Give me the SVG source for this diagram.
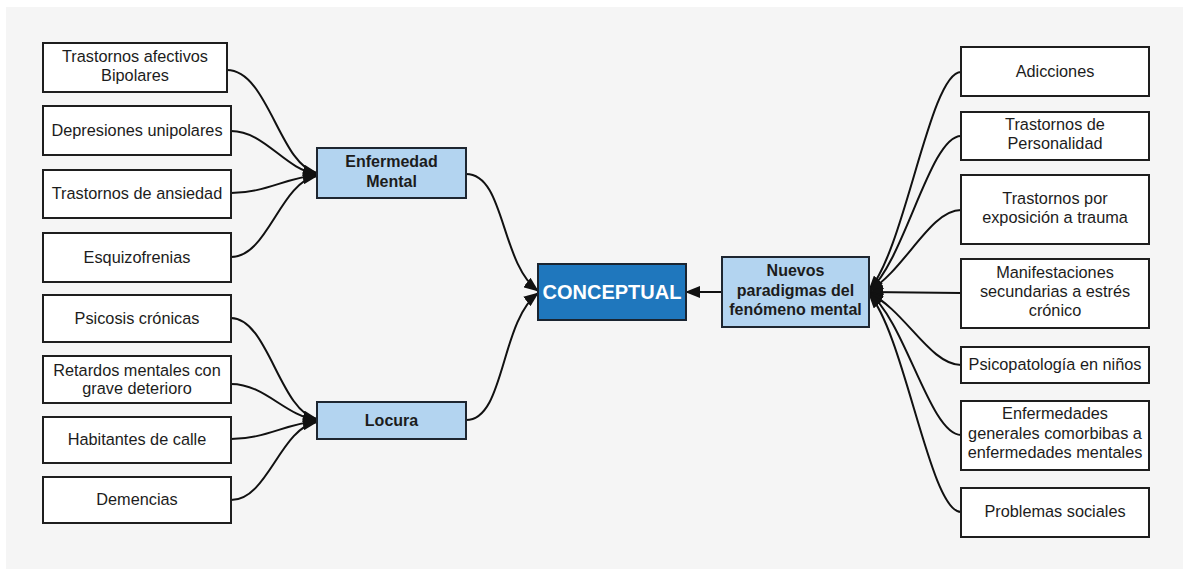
<svg xmlns="http://www.w3.org/2000/svg" width="1183" height="569" viewBox="0 0 1183 569">
  <style>
    .leaf { fill: #ffffff; stroke: #1e1e1e; stroke-width: 2; }
    .hub { fill: #b3d4f0; stroke: #1e2630; stroke-width: 2; }
    .core { fill: #1f77bd; stroke: #1a2430; stroke-width: 2; }
    .t { font-family: "Liberation Sans", Arial, sans-serif; font-size: 16.3px; fill: #1c1c1c; text-anchor: middle; }
    .tb { font-family: "Liberation Sans", Arial, sans-serif; font-size: 16px; font-weight: bold; fill: #1c1c1c; text-anchor: middle; }
    .tc { font-family: "Liberation Sans", Arial, sans-serif; font-size: 20px; font-weight: bold; fill: #ffffff; text-anchor: middle; }
    .link { fill: none; stroke: #111111; stroke-width: 2; marker-end: url(#head); }
  </style>
  <defs>
    <marker id="head" markerUnits="userSpaceOnUse" markerWidth="15" markerHeight="12" refX="14" refY="6" orient="auto">
      <path d="M0,0 L15,6 L0,12 z" fill="#111111"/>
    </marker>
  </defs>

  <rect x="6" y="7" width="1177" height="562" fill="#f5f5f5"/>

  <g id="connectors">
    <!-- leaves into Enfermedad Mental -->
    <path class="link" d="M227,70 C268,70 280,166 317,173"/>
    <path class="link" d="M231,131 C265,131 285,170 317,174"/>
    <path class="link" d="M231,193 C265,193 285,178 317,175"/>
    <path class="link" d="M231,257 C268,257 280,182 317,176"/>
    <!-- leaves into Locura -->
    <path class="link" d="M231,318 C268,318 280,412 317,419"/>
    <path class="link" d="M231,384 C265,384 285,416 317,420"/>
    <path class="link" d="M231,439 C265,439 285,424 317,421"/>
    <path class="link" d="M231,500 C268,500 280,428 317,422"/>
    <!-- hubs into CONCEPTUAL -->
    <path class="link" d="M466,174 C505,174 500,262 538,291"/>
    <path class="link" d="M466,420 C505,420 500,322 538,293"/>
    <path class="link" d="M722,292 L686,292"/>
    <!-- leaves into Nuevos paradigmas -->
    <path class="link" d="M961,72 C930,72 905,250 869,290"/>
    <path class="link" d="M961,136 C930,136 905,260 869,291"/>
    <path class="link" d="M961,210 C930,210 905,270 869,291"/>
    <path class="link" d="M961,293 L869,292"/>
    <path class="link" d="M961,365 C930,365 905,310 869,293"/>
    <path class="link" d="M961,435 C930,435 905,320 869,293"/>
    <path class="link" d="M961,512 C930,512 905,335 869,294"/>
  </g>

  <!-- left column -->
  <g id="n-afectivos">
    <rect class="leaf" x="43" y="43" width="184" height="49"/>
    <text class="t" x="135" y="62">Trastornos afectivos</text>
    <text class="t" x="135" y="81">Bipolares</text>
  </g>
  <g id="n-depresiones">
    <rect class="leaf" x="43" y="106" width="188" height="49"/>
    <text class="t" x="137" y="136">Depresiones unipolares</text>
  </g>
  <g id="n-ansiedad">
    <rect class="leaf" x="43" y="170" width="188" height="48"/>
    <text class="t" x="137" y="199">Trastornos de ansiedad</text>
  </g>
  <g id="n-esquizofrenias">
    <rect class="leaf" x="43" y="233" width="188" height="49"/>
    <text class="t" x="137" y="263">Esquizofrenias</text>
  </g>
  <g id="n-psicosis">
    <rect class="leaf" x="43" y="295" width="188" height="47"/>
    <text class="t" x="137" y="324">Psicosis crónicas</text>
  </g>
  <g id="n-retardos">
    <rect class="leaf" x="43" y="356" width="188" height="47"/>
    <text class="t" x="137" y="376">Retardos mentales con</text>
    <text class="t" x="137" y="394">grave deterioro</text>
  </g>
  <g id="n-habitantes">
    <rect class="leaf" x="43" y="417" width="188" height="46"/>
    <text class="t" x="137" y="445">Habitantes de calle</text>
  </g>
  <g id="n-demencias">
    <rect class="leaf" x="43" y="477" width="188" height="46"/>
    <text class="t" x="137" y="505">Demencias</text>
  </g>

  <!-- hubs -->
  <g id="n-enfermedad">
    <rect class="hub" x="317" y="148" width="149" height="50"/>
    <text class="tb" x="391.5" y="167">Enfermedad</text>
    <text class="tb" x="391.5" y="187">Mental</text>
  </g>
  <g id="n-locura">
    <rect class="hub" x="317" y="402" width="149" height="37"/>
    <text class="tb" x="391.5" y="426">Locura</text>
  </g>
  <g id="n-conceptual">
    <rect class="core" x="538" y="264" width="148" height="56"/>
    <text class="tc" x="612" y="299">CONCEPTUAL</text>
  </g>
  <g id="n-nuevos">
    <rect class="hub" x="722" y="257" width="147" height="70"/>
    <text class="tb" x="795.5" y="276">Nuevos</text>
    <text class="tb" x="795.5" y="296">paradigmas del</text>
    <text class="tb" x="795.5" y="315">fenómeno mental</text>
  </g>

  <!-- right column -->
  <g id="n-adicciones">
    <rect class="leaf" x="961" y="47" width="188" height="49"/>
    <text class="t" x="1055" y="77">Adicciones</text>
  </g>
  <g id="n-personalidad">
    <rect class="leaf" x="961" y="112" width="188" height="48"/>
    <text class="t" x="1055" y="130">Trastornos de</text>
    <text class="t" x="1055" y="149">Personalidad</text>
  </g>
  <g id="n-trauma">
    <rect class="leaf" x="961" y="175" width="188" height="69"/>
    <text class="t" x="1055" y="204">Trastornos por</text>
    <text class="t" x="1055" y="223">exposición a trauma</text>
  </g>
  <g id="n-estres">
    <rect class="leaf" x="961" y="259" width="188" height="69"/>
    <text class="t" x="1055" y="278">Manifestaciones</text>
    <text class="t" x="1055" y="297">secundarias a estrés</text>
    <text class="t" x="1055" y="316">crónico</text>
  </g>
  <g id="n-ninos">
    <rect class="leaf" x="961" y="347" width="188" height="36"/>
    <text class="t" x="1055" y="370">Psicopatología en niños</text>
  </g>
  <g id="n-comorbidas">
    <rect class="leaf" x="961" y="401" width="188" height="69"/>
    <text class="t" x="1055" y="419">Enfermedades</text>
    <text class="t" x="1055" y="439">generales comorbibas a</text>
    <text class="t" x="1055" y="458">enfermedades mentales</text>
  </g>
  <g id="n-sociales">
    <rect class="leaf" x="961" y="488" width="188" height="49"/>
    <text class="t" x="1055" y="517">Problemas sociales</text>
  </g>
</svg>
